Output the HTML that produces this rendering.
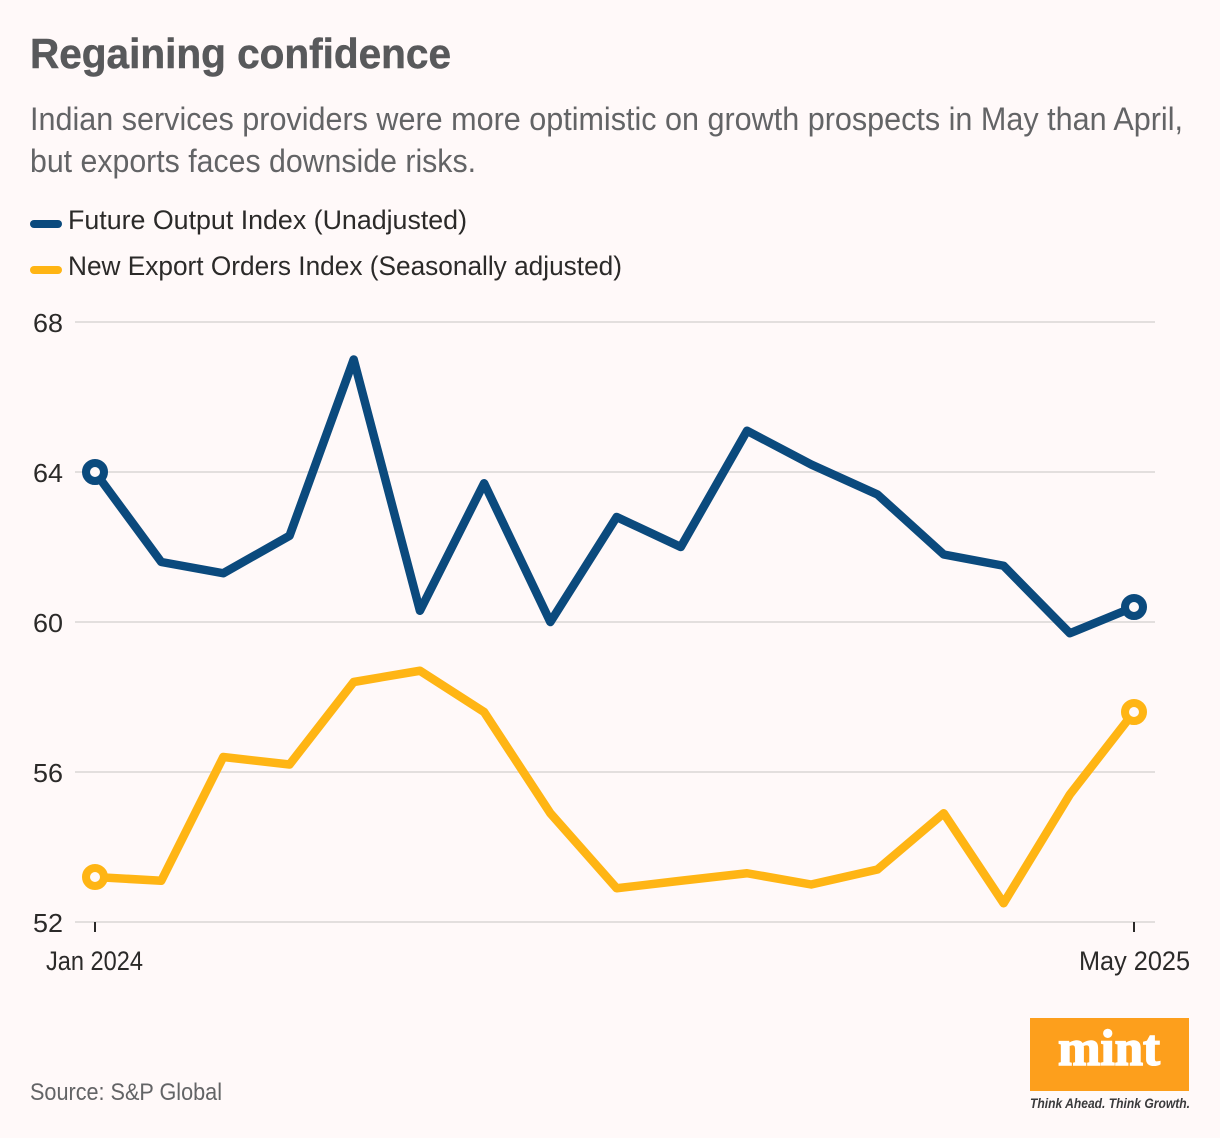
<!DOCTYPE html>
<html lang="en">
<head>
<meta charset="utf-8">
<title>Regaining confidence</title>
<style>
html,body{margin:0;padding:0;background:#fff9f9;}
svg{display:block;font-family:"Liberation Sans",sans-serif;}
</style>
</head>
<body>
<svg id="chart" xmlns="http://www.w3.org/2000/svg" width="1220" height="1138" viewBox="0 0 1220 1138">
  <rect x="0" y="0" width="1220" height="1138" fill="#fff9f9"/>
  <text x="30" y="68" font-size="42" font-weight="700" fill="#58595b" stroke="#58595b" stroke-width="0.5" textLength="421" lengthAdjust="spacingAndGlyphs">Regaining confidence</text>
  <text x="30" y="130" font-size="32" fill="#636466" textLength="1153" lengthAdjust="spacingAndGlyphs">Indian services providers were more optimistic on growth prospects in May than April,</text>
  <text x="30" y="172" font-size="32" fill="#636466" textLength="446" lengthAdjust="spacingAndGlyphs">but exports faces downside risks.</text>

  <line x1="34" y1="224" x2="58" y2="224" stroke="#0b4a7d" stroke-width="8" stroke-linecap="round"/>
  <text x="68" y="229" font-size="27" fill="#2b2a29" textLength="399" lengthAdjust="spacingAndGlyphs">Future Output Index (Unadjusted)</text>
  <line x1="34" y1="270" x2="58" y2="270" stroke="#ffb514" stroke-width="8" stroke-linecap="round"/>
  <text x="68" y="275" font-size="27" fill="#2b2a29" textLength="554" lengthAdjust="spacingAndGlyphs">New Export Orders Index (Seasonally adjusted)</text>

  <g id="grid"></g>
  <g id="xaxis"></g>
  <g id="series"></g>

  <text x="30" y="1100" font-size="24" fill="#636466" textLength="192" lengthAdjust="spacingAndGlyphs">Source: S&amp;P Global</text>

  <g>
    <rect x="1030" y="1018" width="159" height="73" fill="#fd9f1c"/>
    <text x="1058" y="1065" font-family="'Liberation Serif',serif" font-size="51" font-weight="700" fill="#ffffff" stroke="#ffffff" stroke-width="1.6" textLength="102" lengthAdjust="spacingAndGlyphs">mint</text>
    <text x="1030" y="1108" font-size="14" font-weight="700" font-style="italic" fill="#3a3a3c" textLength="160" lengthAdjust="spacingAndGlyphs">Think Ahead. Think Growth.</text>
  </g>
</svg>

<script>
const yTicks = [68, 64, 60, 56, 52];
const xTickLabels = ["Jan 2024", "May 2025"];
const months = ["2024-01-01","2024-02-01","2024-03-01","2024-04-01","2024-05-01","2024-06-01","2024-07-01","2024-08-01","2024-09-01","2024-10-01","2024-11-01","2024-12-01","2025-01-01","2025-02-01","2025-03-01","2025-04-01","2025-05-01"];
const futureOutput = [64.0, 61.6, 61.3, 62.3, 67.0, 60.3, 63.7, 60.0, 62.8, 62.0, 65.1, 64.2, 63.4, 61.8, 61.5, 59.7, 60.4];
const newExportOrders = [53.2, 53.1, 56.4, 56.2, 58.4, 58.7, 57.6, 54.9, 52.9, 53.1, 53.3, 53.0, 53.4, 54.9, 52.5, 55.4, 57.6];

const NS = "http://www.w3.org/2000/svg";
const plotLeft = 95, plotRight = 1134, plotTop = 322, plotBottom = 922;
const yMax = 68, yMin = 52;
const tStart = Date.parse(months[0]);
const tEnd = Date.parse(months[months.length - 1]);

function xScale(i) {
  return plotLeft + (plotRight - plotLeft) * (Date.parse(months[i]) - tStart) / (tEnd - tStart);
}
function yScale(v) {
  return plotTop + (yMax - v) * (plotBottom - plotTop) / (yMax - yMin);
}
function make(tag, attrs, parent) {
  const el = document.createElementNS(NS, tag);
  for (const k in attrs) el.setAttribute(k, attrs[k]);
  parent.appendChild(el);
  return el;
}

const grid = document.getElementById("grid");
yTicks.forEach(function (t) {
  const line = make("line", {x1: 75, x2: 1155, y1: yScale(t), y2: yScale(t), stroke: "#e3dfde", "stroke-width": 2}, grid);
  
  
  const label = make("text", {x: 63, y: yScale(t) + 10, "text-anchor": "end", "font-size": 26, fill: "#2b2a29", textLength: 30, lengthAdjust: "spacingAndGlyphs"}, grid);
  
  
  label.textContent = t;
});

const xaxis = document.getElementById("xaxis");
[0, months.length - 1].forEach(function (idx, n) {
  const tick = make("line", {x1: xScale(idx), x2: xScale(idx), y1: plotBottom, y2: plotBottom + 10, stroke: "#2b2a29", "stroke-width": 2}, xaxis);
  
  
  const label = make("text", {x: n === 0 ? 46 : 1079, y: 970, "font-size": 27, fill: "#2b2a29", textLength: n === 0 ? 97 : 111, lengthAdjust: "spacingAndGlyphs"}, xaxis);
  
  
  label.textContent = xTickLabels[n];
});

const seriesLayer = document.getElementById("series");
function drawSeries(values, color, name) {
  const pts = values.map(function (v, i) { return xScale(i).toFixed(2) + "," + yScale(v).toFixed(2); }).join(" ");
  const line = make("polyline", {points: pts, fill: "none", stroke: color, "stroke-width": 8.5, "stroke-linejoin": "round", "stroke-linecap": "round"}, seriesLayer);
  
  
  [0, values.length - 1].forEach(function (i) {
    const dot = make("circle", {cx: xScale(i), cy: yScale(values[i]), r: 9, fill: "#fff9f9", stroke: color, "stroke-width": 8}, seriesLayer);
    
    
  });
}
drawSeries(futureOutput, "#0b4a7d", "future-output");
drawSeries(newExportOrders, "#ffb514", "new-export-orders");
</script>
</body>
</html>
